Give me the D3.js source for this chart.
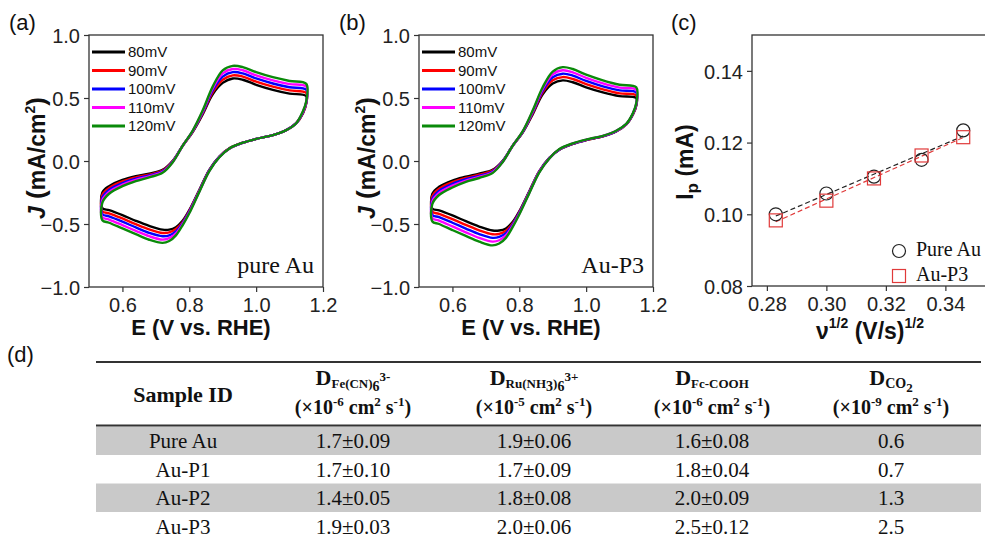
<!DOCTYPE html>
<html>
<head>
<meta charset="utf-8">
<script src="https://cdn.jsdelivr.net/npm/d3@7"></script>
<style>
  body { margin: 0; background: #fff; }
  svg { display: block; }
</style>
</head>
<body>
<svg id="fig" width="985" height="537"></svg>
<script>
// ---- data ----
var scanRates = ['80mV', '90mV', '100mV', '110mV', '120mV'];
var scanColors = ['#000000', '#ff0000', '#0000ff', '#ff00ff', '#0a8a0a'];

// potential grid of the anodic (forward) and cathodic (reverse) sweeps, V vs RHE
var eForward = [0.54, 0.56, 0.60, 0.64, 0.68, 0.72, 0.75, 0.78, 0.81, 0.84, 0.87, 0.90, 0.93, 0.96, 1.00, 1.05, 1.10, 1.15];
var eReverse = [1.15, 1.14, 1.12, 1.09, 1.05, 1.00, 0.96, 0.92, 0.89, 0.86, 0.83, 0.80, 0.78, 0.76, 0.74, 0.72, 0.68, 0.64, 0.60, 0.56, 0.54];

// (a) pure Au, current density mA/cm2
var pureAuForward = [
  [-0.25, -0.20, -0.15, -0.12, -0.10, -0.07, 0.00, 0.12, 0.23, 0.37, 0.53, 0.62, 0.655, 0.645, 0.605, 0.565, 0.535, 0.515],
  [-0.27, -0.215, -0.162, -0.13, -0.108, -0.076, -0.003, 0.12, 0.232, 0.378, 0.545, 0.645, 0.68, 0.67, 0.63, 0.59, 0.56, 0.54],
  [-0.29, -0.23, -0.175, -0.14, -0.115, -0.082, -0.006, 0.12, 0.235, 0.385, 0.56, 0.67, 0.705, 0.695, 0.655, 0.615, 0.585, 0.565],
  [-0.31, -0.245, -0.188, -0.15, -0.122, -0.088, -0.009, 0.12, 0.238, 0.392, 0.575, 0.695, 0.73, 0.72, 0.68, 0.64, 0.61, 0.59],
  [-0.33, -0.26, -0.20, -0.16, -0.13, -0.094, -0.012, 0.12, 0.24, 0.40, 0.59, 0.72, 0.755, 0.745, 0.705, 0.665, 0.635, 0.612]
];
var pureAuReverse = [
  [0.46, 0.38, 0.30, 0.245, 0.205, 0.175, 0.145, 0.10, 0.035, -0.07, -0.23, -0.39, -0.475, -0.525, -0.545, -0.545, -0.515, -0.475, -0.43, -0.39, -0.375],
  [0.46, 0.38, 0.30, 0.245, 0.205, 0.175, 0.145, 0.10, 0.034, -0.073, -0.234, -0.396, -0.485, -0.54, -0.567, -0.571, -0.542, -0.501, -0.456, -0.415, -0.40],
  [0.465, 0.385, 0.30, 0.245, 0.205, 0.175, 0.145, 0.10, 0.033, -0.075, -0.238, -0.402, -0.493, -0.558, -0.59, -0.597, -0.57, -0.527, -0.482, -0.44, -0.422],
  [0.47, 0.39, 0.30, 0.245, 0.205, 0.175, 0.145, 0.10, 0.032, -0.078, -0.241, -0.409, -0.502, -0.574, -0.612, -0.624, -0.597, -0.554, -0.509, -0.465, -0.446],
  [0.475, 0.395, 0.30, 0.245, 0.205, 0.175, 0.145, 0.10, 0.03, -0.08, -0.245, -0.415, -0.51, -0.59, -0.635, -0.65, -0.625, -0.58, -0.535, -0.49, -0.47]
];

// (b) Au-P3
var auP3Forward = [
  [-0.26, -0.205, -0.155, -0.125, -0.10, -0.07, 0.00, 0.12, 0.225, 0.37, 0.53, 0.615, 0.64, 0.625, 0.585, 0.545, 0.515, 0.50],
  [-0.28, -0.22, -0.168, -0.135, -0.109, -0.076, -0.003, 0.12, 0.228, 0.377, 0.544, 0.64, 0.666, 0.651, 0.61, 0.569, 0.537, 0.521],
  [-0.30, -0.237, -0.182, -0.145, -0.118, -0.083, -0.005, 0.12, 0.23, 0.385, 0.558, 0.664, 0.693, 0.678, 0.635, 0.592, 0.56, 0.543],
  [-0.32, -0.254, -0.196, -0.155, -0.127, -0.089, -0.008, 0.12, 0.233, 0.392, 0.572, 0.688, 0.72, 0.704, 0.66, 0.616, 0.582, 0.564],
  [-0.34, -0.27, -0.21, -0.165, -0.135, -0.095, -0.01, 0.12, 0.235, 0.40, 0.585, 0.71, 0.745, 0.73, 0.685, 0.64, 0.605, 0.585]
];
var auP3Reverse = [
  [0.44, 0.37, 0.29, 0.235, 0.195, 0.165, 0.135, 0.09, 0.025, -0.08, -0.24, -0.40, -0.485, -0.535, -0.552, -0.552, -0.52, -0.478, -0.432, -0.392, -0.378],
  [0.445, 0.372, 0.291, 0.236, 0.196, 0.166, 0.136, 0.091, 0.024, -0.082, -0.244, -0.406, -0.495, -0.554, -0.578, -0.581, -0.55, -0.507, -0.461, -0.419, -0.403],
  [0.45, 0.375, 0.292, 0.237, 0.197, 0.167, 0.137, 0.092, 0.023, -0.085, -0.247, -0.412, -0.505, -0.572, -0.603, -0.61, -0.58, -0.536, -0.49, -0.446, -0.428],
  [0.455, 0.377, 0.293, 0.239, 0.199, 0.169, 0.139, 0.094, 0.021, -0.087, -0.251, -0.419, -0.515, -0.591, -0.629, -0.64, -0.61, -0.566, -0.519, -0.473, -0.454],
  [0.46, 0.38, 0.295, 0.24, 0.20, 0.17, 0.14, 0.095, 0.02, -0.09, -0.255, -0.425, -0.525, -0.61, -0.655, -0.67, -0.64, -0.595, -0.548, -0.50, -0.48]
];

// (c) peak current vs square root of scan rate
var sqrtScan = [0.283, 0.300, 0.316, 0.332, 0.346];
var ipPureAu = [0.1000, 0.1058, 0.1105, 0.1152, 0.1234];
var ipAuP3 = [0.0983, 0.1038, 0.1100, 0.1164, 0.1215];

// (d) table
var sampleIds = ['Pure Au', 'Au-P1', 'Au-P2', 'Au-P3'];
var dFeCN = ['1.7±0.09', '1.7±0.10', '1.4±0.05', '1.9±0.03'];
var dRuNH3 = ['1.9±0.06', '1.7±0.09', '1.8±0.08', '2.0±0.06'];
var dFcCOOH = ['1.6±0.08', '1.8±0.04', '2.0±0.09', '2.5±0.12'];
var dCO2 = ['0.6', '0.7', '1.3', '2.5'];

// ---- drawing ----
var SANS = '"Liberation Sans", Arial, sans-serif';
var SERIF = '"Liberation Serif", "Times New Roman", serif';
var AXIS = '#333';

var svg = d3.select('#fig');
svg.append('rect').attr('width', 985).attr('height', 537).attr('fill', '#fff');

// text built from runs; shift = baseline offset in px (positive = lower)
function richText(g, x, y, parts, opts) {
  opts = opts || {};
  var t = g.append('text')
    .attr('x', x).attr('y', y)
    .attr('text-anchor', opts.anchor || 'middle')
    .attr('font-family', opts.family || SERIF)
    .attr('font-weight', opts.weight || 'bold')
    .attr('fill', '#111');
  if (opts.transform) t.attr('transform', opts.transform);
  var prev = 0;
  parts.forEach(function(p) {
    var shift = p.shift || 0;
    t.append('tspan')
      .attr('dy', shift - prev)
      .attr('font-size', p.size)
      .attr('font-style', p.italic ? 'italic' : null)
      .text(p.t);
    prev = shift;
  });
  return t;
}

function frameAxes(g, x, y, xMajor, xMinor, yMajor, yMinor, xFmt, yFmt) {
  var x0 = x.range()[0], x1 = x.range()[1];
  var y0 = y.range()[0], y1 = y.range()[1];

  var gx = g.append('g').attr('transform', 'translate(0,' + y0 + ')');
  gx.call(d3.axisBottom(x).tickValues(xMinor).tickSize(3).tickFormat(''));
  gx.call(d3.axisBottom(x).tickValues(xMajor).tickSize(5).tickPadding(4).tickFormat(xFmt));

  var gy = g.append('g').attr('transform', 'translate(' + x0 + ',0)');
  gy.call(d3.axisLeft(y).tickValues(yMinor).tickSize(3).tickFormat(''));
  gy.call(d3.axisLeft(y).tickValues(yMajor).tickSize(5).tickPadding(4).tickFormat(yFmt));

  [gx, gy].forEach(function(a) {
    a.selectAll('.domain').remove();
    a.selectAll('line').attr('stroke', AXIS).attr('stroke-width', 1.2);
    a.selectAll('text').attr('font-family', SANS).attr('font-size', 20).attr('fill', '#222');
  });
  gx.selectAll('text').attr('dy', '0.78em');
  gy.selectAll('text').attr('dy', '0.36em');

  g.append('rect')
    .attr('x', x0).attr('y', y1)
    .attr('width', x1 - x0).attr('height', y0 - y1)
    .attr('fill', 'none').attr('stroke', AXIS).attr('stroke-width', 1.3);
}

function cvPanel(left, label, sampleName, fwd, rev) {
  var g = svg.append('g');
  var x = d3.scaleLinear().domain([0.5, 1.2]).range([left, left + 234]);
  var y = d3.scaleLinear().domain([-1, 1]).range([287, 35]);

  var line = d3.line()
    .x(function(d) { return x(d[0]); })
    .y(function(d) { return y(d[1]); })
    .curve(d3.curveCatmullRomClosed.alpha(0.5));

  scanRates.forEach(function(r, i) {
    var pts = eForward.map(function(e, k) { return [e, fwd[i][k]]; })
      .concat(eReverse.map(function(e, k) { return [e, rev[i][k]]; }));
    g.append('path')
      .attr('d', line(pts))
      .attr('fill', 'none')
      .attr('stroke', scanColors[i])
      .attr('stroke-width', 2.4)
      .attr('stroke-linejoin', 'round');
  });

  frameAxes(g, x, y,
    [0.6, 0.8, 1.0, 1.2], [0.7, 0.9, 1.1],
    [-1, -0.5, 0, 0.5, 1], [-0.75, -0.25, 0.25, 0.75],
    d3.format('.1f'), d3.format('.1f'));

  // legend
  var leg = g.append('g');
  scanRates.forEach(function(r, i) {
    var ly = 52 + i * 18.5;
    leg.append('line')
      .attr('x1', left + 3).attr('x2', left + 36)
      .attr('y1', ly).attr('y2', ly)
      .attr('stroke', scanColors[i]).attr('stroke-width', 3);
    leg.append('text')
      .attr('x', left + 39).attr('y', ly).attr('dy', '0.36em')
      .attr('font-family', SANS).attr('font-size', 15).attr('fill', '#111')
      .text(r);
  });

  g.append('text')
    .attr('x', left + 225).attr('y', 273)
    .attr('text-anchor', 'end')
    .attr('font-family', SERIF).attr('font-size', 24).attr('fill', '#111')
    .text(sampleName);

  // axis titles
  g.append('text')
    .attr('x', (x.range()[0] + x.range()[1]) / 2 - 5).attr('y', 335)
    .attr('text-anchor', 'middle')
    .attr('font-family', SANS).attr('font-weight', 'bold').attr('font-size', 22).attr('fill', '#111')
    .text('E (V vs. RHE)');

  richText(g, 0, 0, [
    { t: 'J', size: 23, italic: true },
    { t: ' (', size: 26 },
    { t: 'mA/cm', size: 23 },
    { t: '2', size: 14, shift: -10 },
    { t: ')', size: 26, shift: 0 }
  ], { family: SANS, transform: 'translate(' + (left - 44) + ',158) rotate(-90)' });

  g.append('text')
    .attr('x', left - 80).attr('y', 30)
    .attr('font-family', SANS).attr('font-size', 22).attr('fill', '#111')
    .text(label);
}

cvPanel(89, '(a)', 'pure Au', pureAuForward, pureAuReverse);
cvPanel(419, '(b)', 'Au-P3', auP3Forward, auP3Reverse);

// ---- (c) ----
(function() {
  var g = svg.append('g');
  var x = d3.scaleLinear().domain([0.275, 0.355]).range([752, 990]);
  var y = d3.scaleLinear().domain([0.08, 0.15]).range([286, 35]);

  function fit(xs, ys) {
    var mx = d3.mean(xs), my = d3.mean(ys);
    var sxy = d3.sum(xs, function(v, i) { return (v - mx) * (ys[i] - my); });
    var sxx = d3.sum(xs, function(v) { return (v - mx) * (v - mx); });
    var b = sxy / sxx;
    return function(v) { return my + b * (v - mx); };
  }

  var series = [
    { name: 'Pure Au', values: ipPureAu, color: '#222', shape: 'circle' },
    { name: 'Au-P3', values: ipAuP3, color: '#e03a3a', shape: 'square' }
  ];

  series.forEach(function(s) {
    var f = fit(sqrtScan, s.values);
    var xa = d3.min(sqrtScan), xb = d3.max(sqrtScan);
    g.append('line')
      .attr('x1', x(xa)).attr('y1', y(f(xa)))
      .attr('x2', x(xb)).attr('y2', y(f(xb)))
      .attr('stroke', s.color).attr('stroke-width', 1.2)
      .attr('stroke-dasharray', '5,3');
  });

  function marker(sel, s, cx, cy) {
    if (s.shape === 'circle') {
      sel.append('circle').attr('cx', cx).attr('cy', cy).attr('r', 6.5)
        .attr('fill', 'none').attr('stroke', s.color).attr('stroke-width', 1.2);
    } else {
      sel.append('rect').attr('x', cx - 6.5).attr('y', cy - 6.5)
        .attr('width', 13).attr('height', 13)
        .attr('fill', 'none').attr('stroke', s.color).attr('stroke-width', 1.2);
    }
  }

  series.forEach(function(s) {
    s.values.forEach(function(v, i) { marker(g, s, x(sqrtScan[i]), y(v)); });
  });

  frameAxes(g, x, y,
    [0.28, 0.30, 0.32, 0.34], [0.29, 0.31, 0.33, 0.35],
    [0.08, 0.10, 0.12, 0.14], [0.09, 0.11, 0.13, 0.15],
    d3.format('.2f'), d3.format('.2f'));

  series.forEach(function(s, i) {
    var ly = 251 + i * 25;
    marker(g, s, 899, ly);
    g.append('text')
      .attr('x', 916).attr('y', ly + 5)
      .attr('font-family', SERIF).attr('font-size', 20).attr('fill', '#111')
      .text(s.name);
  });

  richText(g, 0, 0, [
    { t: 'I', size: 23 },
    { t: 'p', size: 17, shift: 5 },
    { t: ' (mA)', size: 23, shift: 0 }
  ], { family: SANS, transform: 'translate(693,162) rotate(-90)' });

  richText(g, 870, 339, [
    { t: 'ν', size: 23 },
    { t: '1/2', size: 14, shift: -11 },
    { t: ' (V/s)', size: 23, shift: 0 },
    { t: '1/2', size: 14, shift: -11 }
  ], { family: SANS });

  g.append('text')
    .attr('x', 671).attr('y', 30)
    .attr('font-family', SANS).attr('font-size', 22).attr('fill', '#111')
    .text('(c)');
})();

// ---- (d) table ----
(function() {
  var g = svg.append('g');
  var tableLeft = 96, tableRight = 981;
  var colX = [183, 353, 534, 712, 891];
  var rowTop = 426.5, rowH = 28.5;

  g.append('text')
    .attr('x', 7).attr('y', 362)
    .attr('font-family', SANS).attr('font-size', 22).attr('fill', '#111')
    .text('(d)');

  sampleIds.forEach(function(id, i) {
    if (i % 2 === 0) {
      g.append('rect')
        .attr('x', tableLeft).attr('y', rowTop + i * rowH)
        .attr('width', tableRight - tableLeft).attr('height', rowH)
        .attr('fill', '#c9c9c9');
    }
  });

  g.append('line').attr('x1', tableLeft).attr('x2', tableRight)
    .attr('y1', 362).attr('y2', 362).attr('stroke', '#333').attr('stroke-width', 2);
  g.append('line').attr('x1', tableLeft).attr('x2', tableRight)
    .attr('y1', 425.5).attr('y2', 425.5).attr('stroke', '#333').attr('stroke-width', 2);

  // header
  richText(g, colX[0], 402, [{ t: 'Sample ID', size: 22 }]);

  var dLine = 385, unitLine = 414;
  richText(g, colX[1], dLine, [
    { t: 'D', size: 22 },
    { t: 'Fe(CN)', size: 13, shift: 3 },
    { t: '6', size: 14, shift: 6 },
    { t: '3-', size: 13, shift: -4 }
  ]);
  richText(g, colX[2], dLine, [
    { t: 'D', size: 22 },
    { t: 'Ru(NH', size: 13, shift: 3 },
    { t: '3', size: 14, shift: 6 },
    { t: ')', size: 13, shift: 3 },
    { t: '6', size: 14, shift: 6 },
    { t: '3+', size: 13, shift: -4 }
  ]);
  richText(g, colX[3], dLine, [
    { t: 'D', size: 22 },
    { t: 'Fc-COOH', size: 13, shift: 3 }
  ]);
  richText(g, colX[4], dLine, [
    { t: 'D', size: 22 },
    { t: 'CO', size: 14, shift: 3 },
    { t: '2', size: 13, shift: 7 }
  ]);

  var expo = ['-6', '-5', '-6', '-9'];
  expo.forEach(function(e, i) {
    richText(g, colX[i + 1], unitLine, [
      { t: '(×10', size: 20 },
      { t: e, size: 13, shift: -8 },
      { t: ' cm', size: 20, shift: 0 },
      { t: '2', size: 13, shift: -8 },
      { t: ' s', size: 20, shift: 0 },
      { t: '-1', size: 13, shift: -8 },
      { t: ')', size: 20, shift: 0 }
    ]);
  });

  // body
  var columns = [sampleIds, dFeCN, dRuNH3, dFcCOOH, dCO2];
  columns.forEach(function(col, c) {
    g.selectAll(null)
      .data(col)
      .enter()
      .append('text')
      .attr('x', colX[c])
      .attr('y', function(d, i) { return rowTop + i * rowH + rowH / 2; })
      .attr('dy', '0.35em')
      .attr('text-anchor', 'middle')
      .attr('font-family', SERIF).attr('font-size', 21).attr('fill', '#111')
      .text(function(d) { return d; });
  });
})();
</script>
</body>
</html>
